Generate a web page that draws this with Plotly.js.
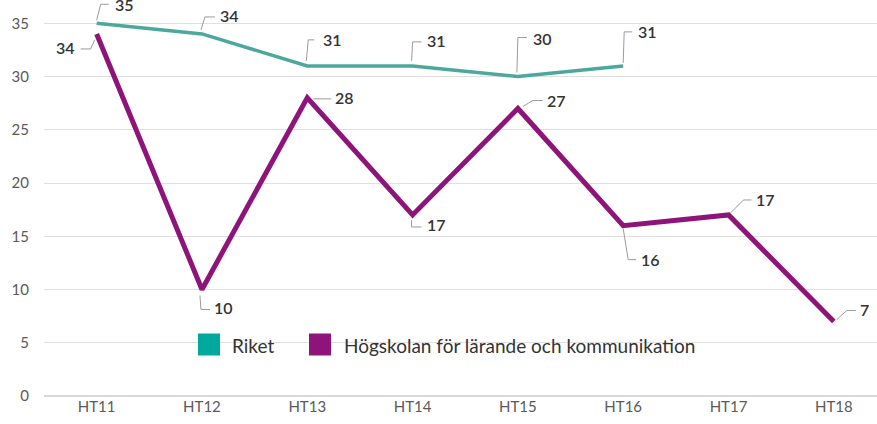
<!DOCTYPE html>
<html>
<head>
<meta charset="utf-8">
<script src="https://cdn.plot.ly/plotly-3.0.1.min.js"></script>
<style>html,body{margin:0;padding:0;background:#fff;}#chart{width:877px;height:424px;}</style>
</head>
<body>
<div id="chart"></div>
<script>
// ---- data ----
const categories = ['HT11','HT12','HT13','HT14','HT15','HT16','HT17','HT18'];
const riketValues = [35, 34, 31, 31, 30, 31];
const hlkValues = [34, 10, 28, 17, 27, 16, 17, 7];
const seriesNames = ['Riket', 'Högskolan för lärande och kommunikation'];

// ---- styles / layout constants ----
const colors = {riket: '#4ca89f', riketLegend: '#00a99d', hlk: '#8e1479', hlkLegend: '#8e1479'};
const M = {l: 44, r: 0, t: 2, b: 28};
const W = 877, H = 424;
const plotW = W - M.l - M.r, plotH = H - M.t - M.b;
const labelFont = {family: 'Lato, "Open Sans", sans-serif', size: 16, color: '#333', weight: 600};

// callout geometry (screen pixel offsets from the point: [start, elbow, end], label offset, anchor)
const riketCallouts = [
  {pts: [[0,-3],[4,-19],[12,-19]], lab: [16,-19], anchor: 'left'},
  {pts: [[-1,-4],[3,-17],[13,-17]], lab: [16,-18], anchor: 'left'},
  {pts: [[-1,-5],[1,-26],[7,-26]], lab: [14,-26], anchor: 'left'},
  {pts: [[-1,-5],[0,-24],[9,-24]], lab: [12,-25], anchor: 'left'},
  {pts: [[-1,-4],[0,-39],[9,-39]], lab: [13,-38], anchor: 'left'},
  {pts: [[0,-3],[1,-34],[9,-34]], lab: [13,-34], anchor: 'left'}
];
const hlkCallouts = [
  {pts: [[-2,6],[-6,15],[-16,15]], lab: [-20,14], anchor: 'right'},
  {pts: [[-2,6],[-1,20],[8,20]], lab: [10,18], anchor: 'left'},
  {pts: [[6,1],[15,1],[24,1]], lab: [26,0], anchor: 'left'},
  {pts: [[-1,5],[-1,12],[9,12]], lab: [12,10], anchor: 'left'},
  {pts: [[5,-2],[15,-8],[25,-8]], lab: [27,-8], anchor: 'left'},
  {pts: [[0,3],[5,34],[13,34]], lab: [16,34], anchor: 'left'},
  {pts: [[2,-2],[15,-15],[23,-15]], lab: [25,-15], anchor: 'left'},
  {pts: [[3,-2],[13,-11],[22,-11]], lab: [24,-12], anchor: 'left'}
];

const shapes = [];
const annotations = [];

function addCallout(i, val, c) {
  const path = c.pts.map((p, k) => (k ? 'L' : 'M') + p[0] + ',' + (-p[1])).join(' ');
  shapes.push({type: 'path', xref: 'x', yref: 'y', xsizemode: 'pixel', ysizemode: 'pixel',
    xanchor: i, yanchor: val, path: path, line: {color: '#9b9b9b', width: 1}, layer: 'above'});
  annotations.push({x: i, y: val, xref: 'x', yref: 'y', text: String(val), showarrow: false,
    xshift: c.lab[0], yshift: -c.lab[1], xanchor: c.anchor, yanchor: 'middle', font: labelFont});
}
riketValues.forEach((v, i) => addCallout(i, v, riketCallouts[i]));
hlkValues.forEach((v, i) => addCallout(i, v, hlkCallouts[i]));

// manual legend (pixel -> paper)
const px = x => (x - M.l) / plotW;
const py = y => (M.t + plotH - y) / plotH;
shapes.push({type: 'rect', xref: 'paper', yref: 'paper', x0: px(185), x1: px(715), y0: py(368), y1: py(322),
  fillcolor: '#fff', line: {width: 0}, layer: 'below'});
const legendItems = [
  {name: seriesNames[0], color: colors.riketLegend, sx: 198, tx: 230},
  {name: seriesNames[1], color: colors.hlkLegend, sx: 309, tx: 342}
];
legendItems.forEach(it => {
  shapes.push({type: 'rect', xref: 'paper', yref: 'paper', x0: px(it.sx), x1: px(it.sx + 22), y0: py(355.5), y1: py(333.5),
    fillcolor: it.color, line: {width: 0}, layer: 'above'});
  annotations.push({xref: 'paper', yref: 'paper', x: px(it.tx), y: py(345), text: it.name, showarrow: false,
    xanchor: 'left', yanchor: 'middle', font: {family: 'Lato, "Open Sans", sans-serif', size: 19, color: '#333'}});
});

const traces = [
  {x: categories.slice(0, riketValues.length), y: riketValues, name: seriesNames[0], type: 'scatter', mode: 'lines',
    line: {color: colors.riket, width: 3.5}, showlegend: false, hoverinfo: 'skip'},
  {x: categories, y: hlkValues, name: seriesNames[1], type: 'scatter', mode: 'lines',
    line: {color: colors.hlk, width: 5}, showlegend: false, hoverinfo: 'skip'}
];

const layout = {
  width: W, height: H,
  margin: M,
  paper_bgcolor: '#fff', plot_bgcolor: '#fff',
  showlegend: false,
  font: {family: 'Lato, "Open Sans", sans-serif', color: '#555'},
  xaxis: {type: 'category', categoryarray: categories, range: [-0.5, 7.41], showgrid: false, zeroline: false,
    showline: false, ticks: '', tickfont: {size: 15, color: '#5a5a5a'}, fixedrange: true},
  yaxis: {range: [0, 37], dtick: 5, tick0: 0, showgrid: true, gridcolor: '#e0e0e0', gridwidth: 1,
    zeroline: true, zerolinecolor: '#d9d9d9', zerolinewidth: 1.5, showline: false, ticks: '',
    ticklabelstandoff: 14, tickfont: {size: 15, color: '#5a5a5a'}, fixedrange: true},
  shapes: shapes,
  annotations: annotations
};

Plotly.newPlot('chart', traces, layout, {displayModeBar: false, staticPlot: true});
</script>
</body>
</html>
